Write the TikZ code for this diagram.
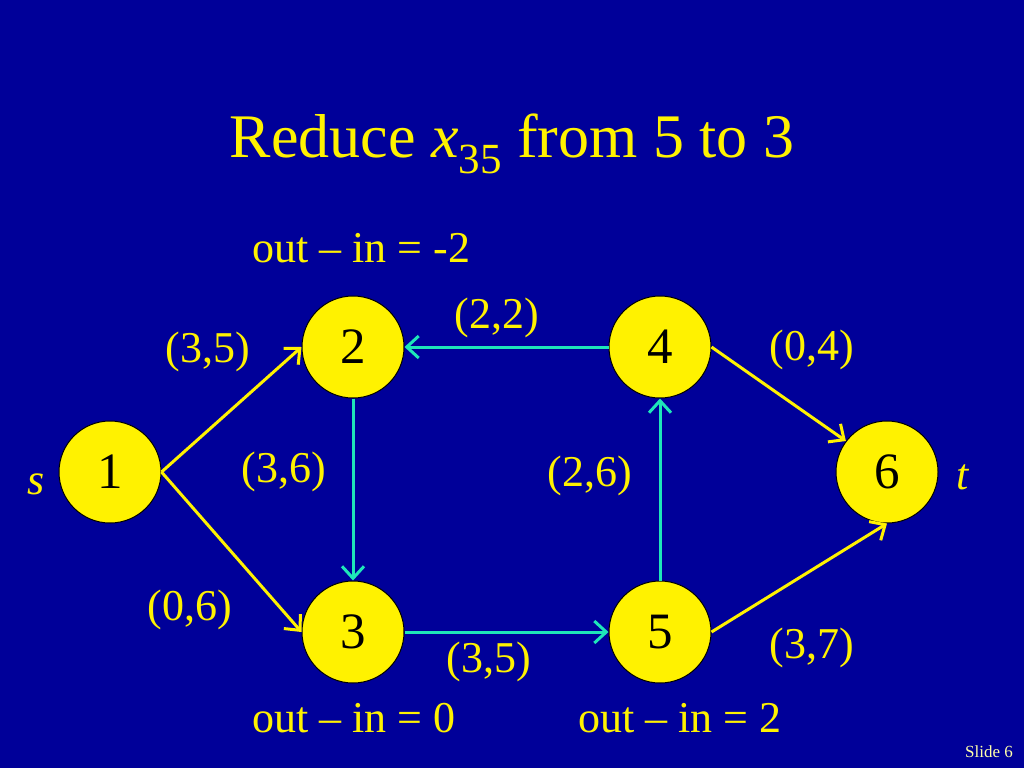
\documentclass[tikz,border=0pt]{standalone}
\usepackage{fontspec}
\setmainfont{Liberation Serif}
\usepackage{tikz}
\usetikzlibrary{positioning,arrows.meta,calc}

\definecolor{slideblue}{RGB}{0,0,153}
\definecolor{flowteal}{RGB}{30,230,185}
\definecolor{pale}{RGB}{255,255,170}

\begin{document}
\begin{tikzpicture}[x=1pt,y=-1pt,
    vertex/.style={circle,draw=black,line width=1pt,fill=yellow,minimum size=102pt,inner sep=0pt,font=\fontsize{51}{51}\selectfont},
    lab/.style={text=yellow,inner sep=0pt,font=\fontsize{44}{44}\selectfont},
    yedge/.style={yellow,line width=3pt,-{Straight Barb[length=12pt,width=22pt,line width=3pt]}},
    tedge/.style={flowteal,line width=3pt,-{Straight Barb[length=12pt,width=22pt,line width=3pt]}}]
\fill[slideblue] (0,0) rectangle (1024,768);
\useasboundingbox (0,0) rectangle (1024,768);

% Title
\node[lab,anchor=base,font=\fontsize{62}{62}\selectfont] (title) at (512,157)
    {Reduce \textit{x}\raisebox{-0.26em}{\fontsize{43}{43}\selectfont 35} from 5 to 3};

% Nodes
\node[vertex] (n1) at (110,472) {1};
\node[vertex] (n2) at (353,347) {2};
\node[vertex] (n3) at (353,632) {3};
\node[vertex] (n4) at (660,347) {4};
\node[vertex] (n5) at (660,632) {5};
\node[vertex] (n6) at (887,472) {6};

% Arcs
\draw[yedge] (n1.east) -- (n2.west);
\draw[yedge] (n1.east) -- (n3.west);
\draw[tedge] (n2.south) -- (n3.north);
\draw[tedge] (n4.west) -- (n2.east);
\draw[tedge] (n3.east) -- (n5.west);
\draw[tedge] (n5.north) -- (n4.south);
\draw[yedge] (n4.east) -- (n6.143);
\draw[yedge] (n5.east) -- (n6.south);

% Arc labels
\node[lab] (l12) at (208,352) {(3,5)};
\node[lab] (l42) at (497,318) {(2,2)};
\node[lab] (l46) at (812,350) {(0,4)};
\node[lab] (l23) at (284,472) {(3,6)};
\node[lab] (l54) at (590,476) {(2,6)};
\node[lab] (l13) at (190,610) {(0,6)};
\node[lab] (l35) at (489,662) {(3,5)};
\node[lab] (l56) at (812,648) {(3,7)};

% Source and sink
\node[lab,font=\fontsize{44}{44}\selectfont\itshape] (s) at (36,484) {s};
\node[lab,font=\fontsize{44}{44}\selectfont\itshape] (t) at (963,477) {t};

% Balance
\node[lab,anchor=base west] (b2) at (252,262) {out -- in = -2};
\node[lab,anchor=base west] (b3) at (252,732) {out -- in = 0};
\node[lab,anchor=base west] (b5) at (578,732) {out -- in = 2};

\node[text=pale,anchor=base east,inner sep=0pt,font=\fontsize{17}{17}\selectfont] (slide) at (1013,757) {Slide 6};
\end{tikzpicture}
\end{document}
